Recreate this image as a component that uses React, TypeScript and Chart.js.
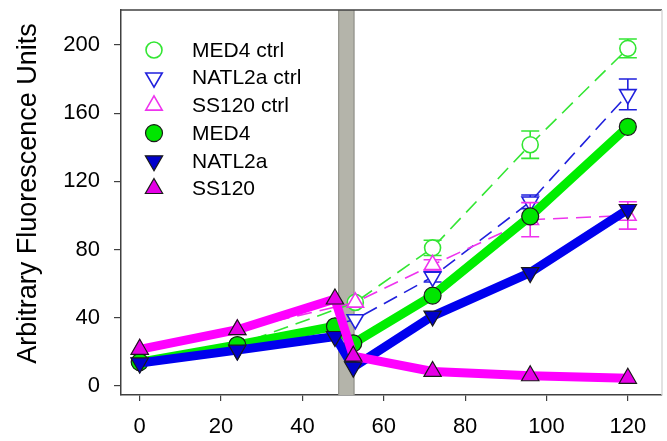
import React, { useEffect, useRef } from 'react';
import { Chart, registerables } from 'chart.js';
import { drawPoint } from 'chart.js/helpers';

Chart.register(...registerables);

// ---- data (hours after start, arbitrary fluorescence units) ----
const TIMES = [0, 24, 48, 52.5, 72, 96, 120];
const CTRL_TIMES = [0, 24, 53, 72, 96, 120];

const MED4 = [14, 24, 35, 25, 53, 99.5, 152];
const NATL2A = [13.5, 21, 29, 11, 41, 66.5, 103.5];
const SS120 = [21.5, 33, 51, 17.5, 8.5, 6, 4.5];

const MED4_CTRL = [14, 24, 49, 81, 141.5, 198];
const MED4_CTRL_ERR = [0, 0, 0, 4.5, 8, 5.5];
const NATL2A_CTRL = [13.5, 21, 39, 64, 108, 171];
const NATL2A_CTRL_ERR = [0, 0, 0, 3, 4, 9];
const SS120_CTRL = [21.5, 33, 49, 71, 97.5, 100];
const SS120_CTRL_ERR = [0, 0, 0, 3, 10, 8];

const X_TICKS = [0, 20, 40, 60, 80, 100, 120];
const Y_TICKS = [0, 40, 80, 120, 160, 200];
const TREATMENT_WINDOW = [48.8, 52.8];

const Y_TITLE = 'Arbitrary Fluorescence Units';
const FONT = "'Liberation Sans', Arial, Helvetica, sans-serif";

const pts = (xs: number[], ys: number[]) => ys.map((y, i) => ({ x: xs[i], y }));

const bandPlugin = {
  id: 'band',
  beforeDatasetsDraw(chart: any) {
    const { ctx, chartArea, scales } = chart;
    const x1 = scales.x.getPixelForValue(TREATMENT_WINDOW[0]);
    const x2 = scales.x.getPixelForValue(TREATMENT_WINDOW[1]);
    ctx.save();
    ctx.fillStyle = '#b4b4aa';
    ctx.fillRect(x1, chartArea.top, x2 - x1, chartArea.bottom - chartArea.top);
    ctx.strokeStyle = '#8c8c86';
    ctx.lineWidth = 1;
    ctx.beginPath();
    ctx.moveTo(x1 + 0.5, chartArea.top);
    ctx.lineTo(x1 + 0.5, chartArea.bottom);
    ctx.moveTo(x2 - 0.5, chartArea.top);
    ctx.lineTo(x2 - 0.5, chartArea.bottom);
    ctx.stroke();
    ctx.restore();
  },
};

const framePlugin = {
  id: 'frame',
  afterDatasetsDraw(chart: any) {
    const { ctx, chartArea } = chart;
    ctx.save();
    ctx.strokeStyle = '#404040';
    ctx.lineWidth = 1.5;
    ctx.beginPath();
    ctx.moveTo(chartArea.left, chartArea.top);
    ctx.lineTo(chartArea.right, chartArea.top);
    ctx.stroke();
    ctx.strokeStyle = '#d8d8d8';
    ctx.beginPath();
    ctx.moveTo(chartArea.right, chartArea.top);
    ctx.lineTo(chartArea.right, chartArea.bottom);
    ctx.stroke();
    ctx.restore();
  },
};

const yTitlePlugin = {
  id: 'yTitle',
  afterDraw(chart: any) {
    const ctx = chart.ctx;
    ctx.save();
    ctx.translate(29, 193.5);
    ctx.rotate(-Math.PI / 2);
    ctx.font = `27px ${FONT}`;
    ctx.fillStyle = '#000';
    ctx.textAlign = 'center';
    ctx.textBaseline = 'middle';
    ctx.fillText(Y_TITLE, 0, 0);
    ctx.restore();
  },
};

const errorBarPlugin = {
  id: 'errorBars',
  beforeDatasetDraw(chart: any, args: any) {
    const ds: any = chart.data.datasets[args.index];
    const errs: number[] | undefined = ds.errors;
    if (!errs) return;
    const ctx = chart.ctx;
    const ys = chart.scales.y;
    ctx.save();
    ctx.strokeStyle = ds.errorColor;
    ctx.lineWidth = 1.6;
    args.meta.data.forEach((pt: any, i: number) => {
      const e = errs[i];
      if (!e) return;
      const v = ds.data[i].y;
      const y1 = ys.getPixelForValue(v + e);
      const y2 = ys.getPixelForValue(v - e);
      const x = pt.x;
      ctx.beginPath();
      ctx.moveTo(x, y1);
      ctx.lineTo(x, y2);
      ctx.moveTo(x - 9, y1);
      ctx.lineTo(x + 9, y1);
      ctx.moveTo(x - 9, y2);
      ctx.lineTo(x + 9, y2);
      ctx.stroke();
    });
    ctx.restore();
  },
};

const legendPlugin = {
  id: 'customLegend',
  afterDraw(chart: any) {
    const ctx = chart.ctx;
    const markerX = 154;
    const textX = 192;
    const y0 = 50;
    const step = 27.7;
    ctx.save();
    ctx.font = `21px ${FONT}`;
    ctx.textBaseline = 'middle';
    ctx.textAlign = 'left';
    chart.data.datasets.forEach((ds: any, i: number) => {
      const y = y0 + i * step;
      ctx.fillStyle = ds.pointBackgroundColor;
      ctx.strokeStyle = ds.pointBorderColor;
      ctx.lineWidth = ds.pointBorderWidth;
      drawPoint(ctx, {
        pointStyle: ds.pointStyle,
        radius: ds.pointRadius,
        rotation: ds.pointRotation || 0,
        borderWidth: ds.pointBorderWidth,
      } as any, markerX, y);
      ctx.fillStyle = '#000';
      ctx.fillText(ds.label, textX, y + 1);
    });
    ctx.restore();
  },
};

export default function App() {
  const ref = useRef<HTMLCanvasElement | null>(null);

  useEffect(() => {
    if (!ref.current) return;
    const ctrl = (label: string, data: number[], errs: number[], color: string, style: string, rot: number, r: number, order: number) => ({
      label,
      data: pts(CTRL_TIMES, data),
      errors: errs,
      errorColor: color,
      borderColor: color,
      borderWidth: 1.6,
      borderDash: [15, 8],
      pointStyle: style,
      pointRotation: rot,
      pointRadius: r,
      pointBackgroundColor: '#ffffff',
      pointBorderColor: color,
      pointBorderWidth: 1.6,
      fill: false,
      tension: 0,
      order,
    });
    const solid = (label: string, data: number[], line: string, fillC: string, style: string, rot: number, r: number, order: number) => ({
      label,
      data: pts(TIMES, data),
      borderColor: line,
      borderWidth: 9,
      borderCapStyle: 'round',
      borderJoinStyle: 'round',
      pointStyle: style,
      pointRotation: rot,
      pointRadius: r,
      pointBackgroundColor: fillC,
      pointBorderColor: '#1a1a1a',
      pointBorderWidth: 1.2,
      fill: false,
      tension: 0,
      order,
    });

    const zeroPad = (s: any) => {
      s.paddingTop = 0;
      s.paddingBottom = 0;
      s.paddingLeft = 0;
      s.paddingRight = 0;
    };

    const chart = new Chart(ref.current, {
      type: 'line',
      data: {
        datasets: [
          ctrl('MED4 ctrl', MED4_CTRL, MED4_CTRL_ERR, '#33e633', 'circle', 0, 8, 6),
          ctrl('NATL2a ctrl', NATL2A_CTRL, NATL2A_CTRL_ERR, '#2020dd', 'triangle', 180, 9.5, 5),
          ctrl('SS120 ctrl', SS120_CTRL, SS120_CTRL_ERR, '#ee33ee', 'triangle', 0, 9.5, 4),
          solid('MED4', MED4, '#00ee00', '#00e600', 'circle', 0, 8.5, 3),
          solid('NATL2a', NATL2A, '#0000ee', '#0000cc', 'triangle', 180, 10, 2),
          solid('SS120', SS120, '#ff00ff', '#e600e6', 'triangle', 0, 10, 1),
        ] as any,
      },
      options: {
        animation: false,
        responsive: true,
        maintainAspectRatio: false,
        layout: { autoPadding: false, padding: { left: 0, top: 10, right: 5, bottom: 0 } },
        plugins: {
          legend: { display: false },
          tooltip: { enabled: false },
        },
        scales: {
          x: {
            type: 'linear',
            min: -4.6,
            max: 128.4,
            afterBuildTicks: (s: any) => { s.ticks = X_TICKS.map((v) => ({ value: v })); },
            afterFit: (s: any) => { s.height = 46; zeroPad(s); },
            ticks: { color: '#000', font: { family: FONT, size: 22 }, padding: 13, maxRotation: 0, autoSkip: false },
            grid: { display: true, drawOnChartArea: false, drawTicks: true, tickLength: 6, color: '#404040', lineWidth: 1.2 },
            border: { display: true, color: '#404040', width: 1.5 },
          },
          y: {
            type: 'linear',
            min: -5.3,
            max: 220.5,
            afterBuildTicks: (s: any) => { s.ticks = Y_TICKS.map((v) => ({ value: v })); },
            afterFit: (s: any) => { s.width = 121; zeroPad(s); },
            ticks: { color: '#000', font: { family: FONT, size: 22 }, padding: 14, autoSkip: false },
            grid: { display: true, drawOnChartArea: false, drawTicks: true, tickLength: 7, color: '#404040', lineWidth: 1.2 },
            border: { display: true, color: '#404040', width: 1.5 },
          },
        },
      },
      plugins: [bandPlugin, errorBarPlugin, framePlugin, legendPlugin, yTitlePlugin],
    });
    return () => chart.destroy();
  }, []);

  return (
    <div style={{ position: 'fixed', left: 0, top: 0, width: 667, height: 441, background: '#fff' }}>
      <canvas ref={ref} />
    </div>
  );
}
